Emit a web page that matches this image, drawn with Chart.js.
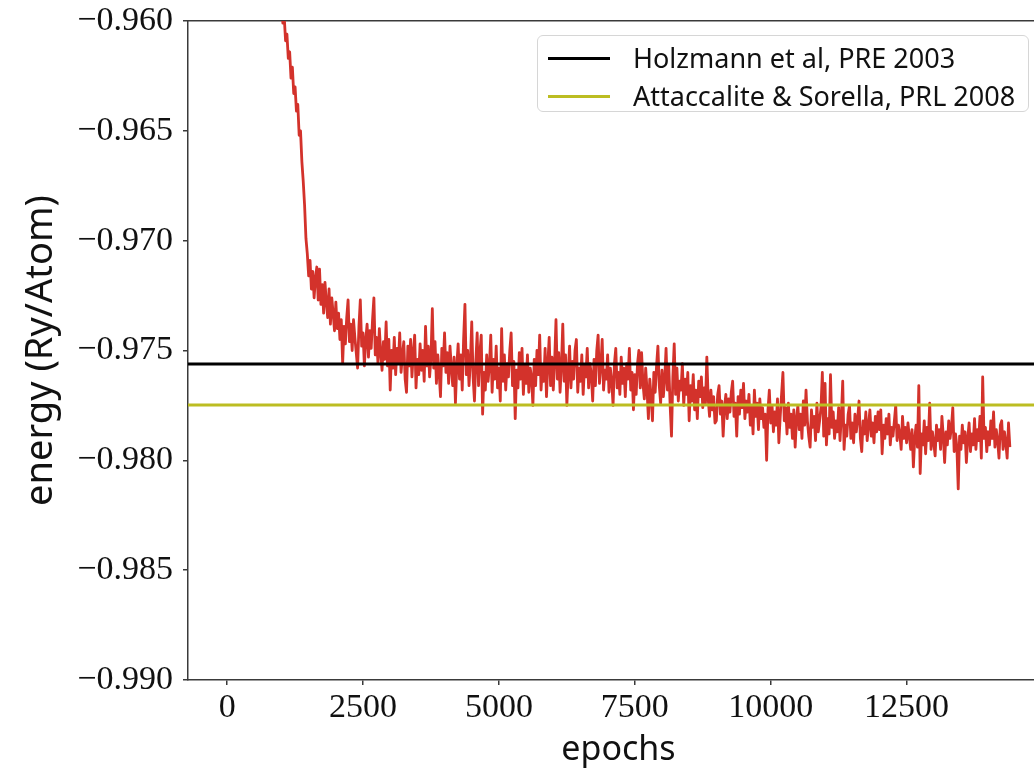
<!DOCTYPE html>
<html>
<head>
<meta charset="utf-8">
<script src="https://cdn.jsdelivr.net/npm/chart.js@4/dist/chart.umd.min.js"></script>
<style>
  html, body { margin: 0; padding: 0; background: #fff; overflow: hidden; }
  #wrap { position: relative; width: 1034px; height: 772px; overflow: hidden; }
  #c { position: absolute; left: 0; top: 0; }
  #legend {
    position: absolute; left: 537px; top: 35px; width: 492px; height: 77px;
    box-sizing: border-box; border: 1px solid #d6d6d6; border-radius: 6px;
    background: rgba(255,255,255,0.85);
    font-family: "Noto Sans", sans-serif; font-size: 27px; color: #111;
  }
  #legend .row { position: absolute; left: 10px; height: 30px; line-height: 30px; white-space: nowrap; }
  #legend .swatch { display: inline-block; width: 62px; height: 3px; vertical-align: middle; margin-right: 23px; position: relative; top: -2px; }
</style>
</head>
<body>
<div id="wrap">
  <canvas id="c" width="1060" height="772"></canvas>
  <div id="legend">
    <div class="row" style="top: 7px;"><span class="swatch" style="background:#000;"></span>Holzmann et al, PRE 2003</div>
    <div class="row" style="top: 45px;"><span class="swatch" style="background:#bcbd22;"></span>Attaccalite &amp; Sorella, PRL 2008</div>
  </div>
</div>
<script>
// reference energies (Ry/Atom)
const holzmann = -0.97561;
const attaccalite = -0.97748;

// axis range / ticks
const xMin = -720, xMax = 15120;
const yMin = -0.990, yMax = -0.960;
const xTicks = [0, 2500, 5000, 7500, 10000, 12500];
const yTicks = [-0.990, -0.985, -0.980, -0.975, -0.970, -0.965, -0.960];

// training curve, one sample every 25 epochs starting at epoch 1000
const firstEpoch = 1000;
const epochStep = 25;

// 1000 - 1975
const energyDrop = [
  -0.9588, -0.9601, -0.9598, -0.9609, -0.9606, -0.9617, -0.9614, -0.9626, -0.9621, -0.9633,
  -0.9630, -0.9641, -0.9638, -0.9652, -0.9650, -0.9664, -0.9673, -0.9684, -0.9699, -0.9706,
  -0.9716, -0.9709, -0.9722, -0.9714, -0.9726, -0.9717, -0.9712, -0.9727, -0.9713, -0.9729,
  -0.9720, -0.9733, -0.9719, -0.9728, -0.9735, -0.9722, -0.9738, -0.9726, -0.9733, -0.9741
];

// 2000 - 7475
const energyPlateau = [
  -0.9728, -0.9740, -0.9733, -0.9745, -0.9736, -0.9756, -0.9739, -0.9747, -0.9735, -0.9727,
  -0.9746, -0.9738, -0.9750, -0.9736, -0.9744, -0.9751, -0.9758, -0.9739, -0.9727, -0.9748,
  -0.9742, -0.9757, -0.9745, -0.9738, -0.9753, -0.9741, -0.9749, -0.9736, -0.9726, -0.9752,
  -0.9744, -0.9756, -0.9740, -0.9751, -0.9759, -0.9746, -0.9754, -0.9737, -0.9757, -0.9745,
  -0.9768, -0.9750, -0.9758, -0.9744, -0.9761, -0.9749, -0.9756, -0.9742, -0.9760, -0.9752,
  -0.9746, -0.9763, -0.9769, -0.9748, -0.9757, -0.9745, -0.9762, -0.9751, -0.9743, -0.9767,
  -0.9754, -0.9761, -0.9747, -0.9759, -0.9750, -0.9764, -0.9739, -0.9757, -0.9748, -0.9762,
  -0.9753, -0.9731, -0.9758, -0.9746, -0.9765, -0.9752, -0.9760, -0.9771, -0.9749, -0.9757,
  -0.9742, -0.9760, -0.9751, -0.9765, -0.9748, -0.9758, -0.9766, -0.9753, -0.9774, -0.9757,
  -0.9747, -0.9763, -0.9752, -0.9768, -0.9745, -0.9729, -0.9761, -0.9750, -0.9766, -0.9755,
  -0.9737, -0.9762, -0.9773, -0.9755, -0.9742, -0.9766, -0.9751, -0.9743, -0.9779, -0.9760,
  -0.9768, -0.9752, -0.9764, -0.9757, -0.9743, -0.9769, -0.9754, -0.9763, -0.9748, -0.9767,
  -0.9758, -0.9773, -0.9740, -0.9764, -0.9752, -0.9768, -0.9756, -0.9762, -0.9750, -0.9742,
  -0.9766, -0.9755, -0.9781, -0.9759, -0.9767, -0.9751, -0.9763, -0.9749, -0.9770, -0.9757,
  -0.9765, -0.9752, -0.9769, -0.9758, -0.9762, -0.9775, -0.9754, -0.9766, -0.9750, -0.9761,
  -0.9743, -0.9768, -0.9757, -0.9764, -0.9749, -0.9771, -0.9756, -0.9744, -0.9766, -0.9753,
  -0.9768, -0.9755, -0.9736, -0.9763, -0.9751, -0.9769, -0.9757, -0.9738, -0.9764, -0.9752,
  -0.9775, -0.9760, -0.9748, -0.9767, -0.9755, -0.9763, -0.9750, -0.9745, -0.9769, -0.9758,
  -0.9764, -0.9752, -0.9770, -0.9757, -0.9762, -0.9749, -0.9767, -0.9756, -0.9761, -0.9773,
  -0.9754, -0.9766, -0.9750, -0.9743, -0.9765, -0.9757, -0.9745, -0.9768, -0.9759, -0.9763,
  -0.9752, -0.9769, -0.9758, -0.9764, -0.9775, -0.9756, -0.9749, -0.9767, -0.9760, -0.9770,
  -0.9753, -0.9765, -0.9758, -0.9771, -0.9756, -0.9763, -0.9749, -0.9768, -0.9760, -0.9777
];

// 7500 - 10975
const energySlope = [
  -0.9761, -0.9770, -0.9756, -0.9750, -0.9767, -0.9751, -0.9765, -0.9772, -0.9758, -0.9768,
  -0.9781, -0.9763, -0.9771, -0.9782, -0.9760, -0.9769, -0.9757, -0.9748, -0.9766, -0.9774,
  -0.9759, -0.9771, -0.9763, -0.9749, -0.9768, -0.9757, -0.9775, -0.9789, -0.9762, -0.9747,
  -0.9770, -0.9758, -0.9773, -0.9764, -0.9768, -0.9756, -0.9775, -0.9763, -0.9770, -0.9760,
  -0.9782, -0.9766, -0.9773, -0.9761, -0.9777, -0.9768, -0.9781, -0.9764, -0.9771, -0.9762,
  -0.9776, -0.9767, -0.9774, -0.9753, -0.9772, -0.9780, -0.9768, -0.9777, -0.9771, -0.9783,
  -0.9782, -0.9770, -0.9766, -0.9779, -0.9773, -0.9789, -0.9776, -0.9770, -0.9781, -0.9772,
  -0.9778, -0.9769, -0.9764, -0.9780, -0.9774, -0.9789, -0.9771, -0.9779, -0.9768, -0.9776,
  -0.9765, -0.9781, -0.9773, -0.9778, -0.9770, -0.9784, -0.9775, -0.9788, -0.9768, -0.9780,
  -0.9774, -0.9786, -0.9772, -0.9781, -0.9776, -0.9785, -0.9779, -0.9800, -0.9777, -0.9768,
  -0.9783, -0.9775, -0.9787, -0.9778, -0.9784, -0.9772, -0.9792, -0.9780, -0.9770, -0.9760,
  -0.9782, -0.9776, -0.9788, -0.9774, -0.9785, -0.9779, -0.9790, -0.9777, -0.9794, -0.9781,
  -0.9775, -0.9786, -0.9779, -0.9790, -0.9773, -0.9784, -0.9768, -0.9782, -0.9789, -0.9794,
  -0.9777, -0.9785, -0.9780, -0.9791, -0.9774, -0.9787, -0.9782, -0.9776, -0.9760, -0.9789
];

// 11000 - 14400
const energyTail = [
  -0.9765, -0.9793, -0.9781, -0.9788, -0.9761, -0.9785, -0.9778, -0.9790, -0.9782, -0.9787,
  -0.9776, -0.9791, -0.9780, -0.9764, -0.9795, -0.9784, -0.9789, -0.9779, -0.9775, -0.9790,
  -0.9783, -0.9792, -0.9779, -0.9787, -0.9781, -0.9773, -0.9790, -0.9796, -0.9782, -0.9788,
  -0.9778, -0.9791, -0.9784, -0.9777, -0.9789, -0.9783, -0.9792, -0.9780, -0.9787, -0.9778,
  -0.9786, -0.9777, -0.9797, -0.9784, -0.9790, -0.9781, -0.9788, -0.9779, -0.9793, -0.9785,
  -0.9789, -0.9782, -0.9775, -0.9791, -0.9784, -0.9788, -0.9795, -0.9780, -0.9790, -0.9785,
  -0.9792, -0.9783, -0.9789, -0.9795, -0.9786, -0.9803, -0.9790, -0.9784, -0.9794, -0.9766,
  -0.9806, -0.9788, -0.9793, -0.9782, -0.9797, -0.9785, -0.9791, -0.9774, -0.9795, -0.9787,
  -0.9792, -0.9798, -0.9784, -0.9791, -0.9786, -0.9795, -0.9780, -0.9789, -0.9801, -0.9787,
  -0.9793, -0.9782, -0.9790, -0.9785, -0.9776, -0.9796, -0.9788, -0.9794, -0.9813, -0.9789,
  -0.9795, -0.9784, -0.9792, -0.9787, -0.9801, -0.9790, -0.9783, -0.9796, -0.9788, -0.9793,
  -0.9781, -0.9795, -0.9786, -0.9791, -0.9780, -0.9799, -0.9762, -0.9790, -0.9785, -0.9796,
  -0.9787, -0.9793, -0.9782, -0.9790, -0.9778, -0.9794, -0.9786, -0.9791, -0.9799, -0.9784,
  -0.9782, -0.9795, -0.9787, -0.9792, -0.9799, -0.9783, -0.9794
];

const energy = energyDrop.concat(energyPlateau, energySlope, energyTail);
const curve = energy.map((e, i) => ({ x: firstEpoch + i * epochStep, y: e }));

const axisColor = "#3a3a3a";
const tickFont = { family: "'Liberation Serif', serif", size: 34 };

function fmt(v) {
  return v < 0 ? "\u2212" + Math.abs(v).toFixed(3) : v.toFixed(3);
}

// no automatic label padding, the plot box is fixed by hand
function noPad(s) {
  s.paddingTop = 0;
  s.paddingBottom = 0;
  s.paddingLeft = 0;
  s.paddingRight = 0;
}

new Chart(document.getElementById("c"), {
  type: "line",
  data: {
    datasets: [
      {
        label: "Holzmann et al, PRE 2003",
        data: [{ x: xMin, y: holzmann }, { x: xMax, y: holzmann }],
        borderColor: "#000000",
        borderWidth: 3,
        pointRadius: 0
      },
      {
        label: "Attaccalite & Sorella, PRL 2008",
        data: [{ x: xMin, y: attaccalite }, { x: xMax, y: attaccalite }],
        borderColor: "#bcbd22",
        borderWidth: 3,
        pointRadius: 0
      },
      {
        label: "energy",
        data: curve,
        borderColor: "#d3322b",
        borderWidth: 2.8,
        borderJoinStyle: "round",
        pointRadius: 0,
        tension: 0
      }
    ]
  },
  options: {
    responsive: false,
    animation: false,
    layout: { padding: { left: 0, top: 21, right: 11, bottom: 0 } },
    plugins: {
      legend: { display: false },
      tooltip: { enabled: false }
    },
    scales: {
      x: {
        type: "linear",
        position: "bottom",
        min: xMin,
        max: xMax,
        afterFit: s => { s.height = 92; noPad(s); },
        afterBuildTicks: s => { s.ticks = xTicks.map(v => ({ value: v })); },
        grid: { display: true, drawOnChartArea: false, drawTicks: true, tickLength: 5, color: axisColor, lineWidth: 1.5 },
        border: { display: true, color: axisColor, width: 1.5 },
        ticks: { font: tickFont, color: "#111", padding: 3, maxRotation: 0, callback: v => String(v) },
        title: {
          display: true,
          text: "epochs",
          font: { family: "'Noto Sans', sans-serif", size: 34 },
          color: "#111",
          padding: { top: 0, bottom: 1 }
        }
      },
      xTop: {
        type: "linear",
        position: "top",
        min: xMin,
        max: xMax,
        afterFit: s => { s.height = 0; noPad(s); },
        grid: { display: false },
        ticks: { display: false },
        border: { display: true, color: axisColor, width: 1.5 }
      },
      y: {
        type: "linear",
        min: yMin,
        max: yMax,
        afterFit: s => { s.width = 188; noPad(s); },
        afterBuildTicks: s => { s.ticks = yTicks.map(v => ({ value: v })); },
        grid: { display: true, drawOnChartArea: false, drawTicks: true, tickLength: 5, color: axisColor, lineWidth: 1.5 },
        border: { display: true, color: axisColor, width: 1.5 },
        ticks: { font: tickFont, color: "#111", padding: 10, callback: v => fmt(v) },
        title: {
          display: true,
          text: "energy (Ry/Atom)",
          font: { family: "'Noto Sans', sans-serif", size: 38 },
          color: "#111",
          padding: { top: 18, bottom: 0 }
        }
      }
    }
  }
});
</script>
</body>
</html>
